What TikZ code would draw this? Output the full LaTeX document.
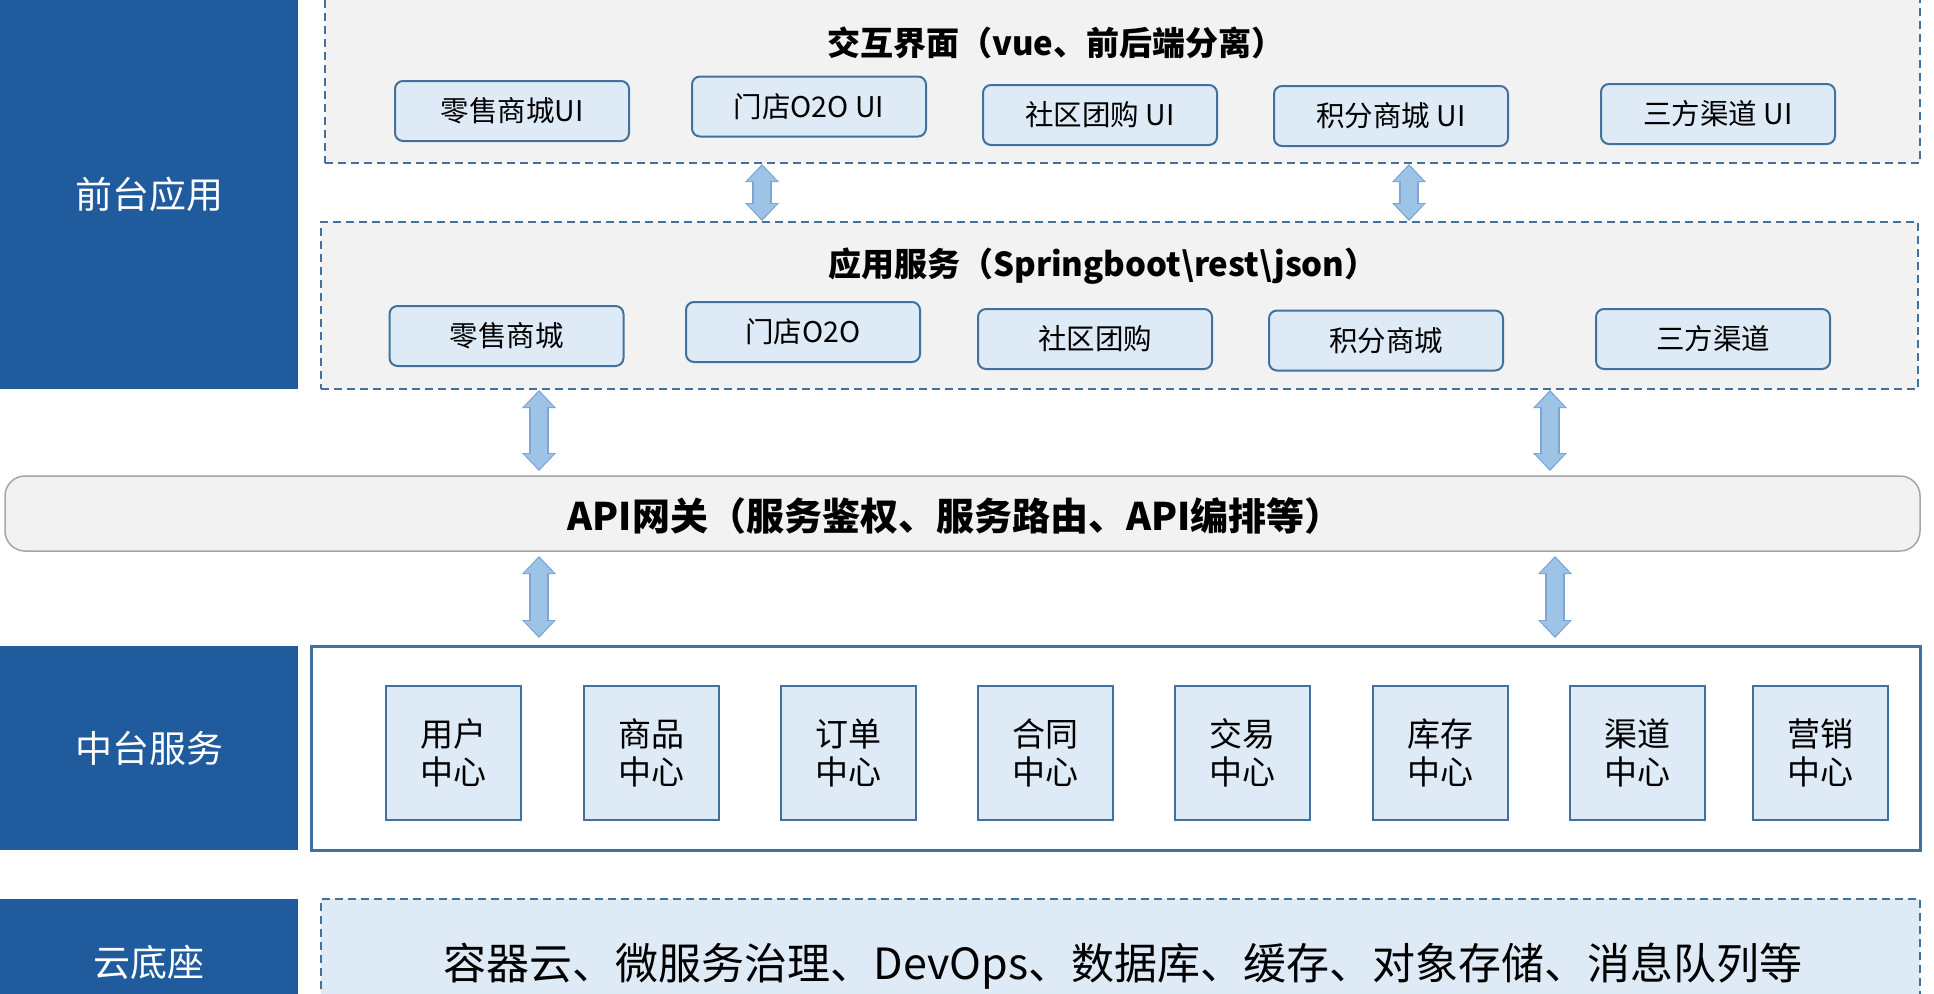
\documentclass[tikz,border=0pt]{standalone}
\usepackage{fontspec}
\setmainfont{Noto Sans CJK SC}
\usetikzlibrary{arrows.meta}
\definecolor{panelblue}{RGB}{31,91,157}
\definecolor{edgeblue}{RGB}{65,113,156}
\definecolor{boxfill}{RGB}{222,235,247}
\definecolor{grayfill}{RGB}{242,242,242}
\definecolor{apigray}{RGB}{166,166,166}
\definecolor{arrowfill}{RGB}{157,195,230}
\definecolor{arrowedge}{RGB}{125,166,214}
\begin{document}
\begin{tikzpicture}[x=1pt,y=-1pt,
  panel/.style={fill=panelblue, draw=none, text=white, inner sep=0pt, font=\fontsize{37}{44}\selectfont},
  groupbox/.style={draw=edgeblue, line width=2pt, dash pattern=on 8pt off 5pt, fill=grayfill, inner sep=0pt},
  uibox/.style={draw=edgeblue, line width=2pt, fill=boxfill, rounded corners=8pt, minimum width=234pt, minimum height=60pt, inner sep=0pt, font=\fontsize{28.5}{34}\selectfont},
  svcbox/.style={draw=edgeblue, line width=2pt, fill=boxfill, minimum width=135pt, minimum height=134pt, inner sep=0pt, align=center, font=\fontsize{33}{38}\selectfont},
  grouptitle/.style={anchor=west, inner sep=0pt, font=\bfseries\fontsize{33}{38}\selectfont},
  arrowouter/.style={line width=20pt, draw=arrowedge, {Triangle[width=34pt,length=18pt,line width=0pt]}-{Triangle[width=34pt,length=18pt,line width=0pt]}},
  arrowinner/.style={line width=16pt, draw=arrowfill, shorten <=2pt, shorten >=2pt, {Triangle[width=29pt,length=15pt,line width=0pt]}-{Triangle[width=29pt,length=15pt,line width=0pt]}}
]
\useasboundingbox (0,0) rectangle (1934,993);
\clip (0,0) rectangle (1934,993);
\fill[white] (0,0) rectangle (1934,993);

% left panels
\node[panel, minimum width=298pt, minimum height=389pt] (p1) at (149,194.5) {前台应用};
\node[panel, minimum width=298pt, minimum height=204pt] (p2) at (149,748) {中台服务};
\node[panel, minimum width=298pt, minimum height=126pt] (p3) at (149,962) {云底座};

% top group: interaction
\node[groupbox, minimum width=1595pt, minimum height=183pt] (gi) at (1122.5,71.5) {};
\node[grouptitle] (ti) at (827,43) {交互界面（vue、前后端分离）};
\node[uibox] (u1) at (512,111) {零售商城UI};
\node[uibox] (u2) at (809,106.5) {门店O2O UI};
\node[uibox] (u3) at (1100,115) {社区团购 UI};
\node[uibox] (u4) at (1391,116) {积分商城 UI};
\node[uibox] (u5) at (1718,114) {三方渠道 UI};

% second group: app services
\node[groupbox, minimum width=1597pt, minimum height=167pt] (ga) at (1119.5,305.5) {};
\node[grouptitle] (ta) at (828,266) {应用服务（Springboot\textbackslash rest\textbackslash json）};
\node[uibox] (s1) at (506.5,336) {零售商城};
\node[uibox] (s2) at (803,332) {门店O2O};
\node[uibox] (s3) at (1095,339) {社区团购};
\node[uibox] (s4) at (1386,340.5) {积分商城};
\node[uibox] (s5) at (1713,339) {三方渠道};

% API gateway
\node[draw=apigray, line width=1.5pt, fill=grayfill, rounded corners=20pt, minimum width=1915pt, minimum height=75pt, inner sep=0pt] (api) at (962.5,513.5) {};
\node[inner sep=0pt, font=\bfseries\fontsize{38}{44}\selectfont] (apit) at (955,516) {API网关（服务鉴权、服务路由、API编排等）};

% middle services
\node[draw=edgeblue, line width=3pt, fill=white, minimum width=1609pt, minimum height=204pt, inner sep=0pt] (mid) at (1115.5,748) {};
\node[svcbox] (m1) at (453.5,753) {用户\\中心};
\node[svcbox] (m2) at (651,753) {商品\\中心};
\node[svcbox] (m3) at (848,753) {订单\\中心};
\node[svcbox] (m4) at (1045.5,753) {合同\\中心};
\node[svcbox] (m5) at (1242.5,753) {交易\\中心};
\node[svcbox] (m6) at (1440,753) {库存\\中心};
\node[svcbox] (m7) at (1637.5,753) {渠道\\中心};
\node[svcbox] (m8) at (1820.5,753) {营销\\中心};

% cloud base
\node[groupbox, fill=boxfill, minimum width=1599pt, minimum height=126pt] (cloud) at (1120.5,962) {};
\node[inner sep=0pt, font=\fontsize{43}{50}\selectfont] (cloudt) at (1123,966) {容器云、微服务治理、DevOps、数据库、缓存、对象存储、消息队列等};

% arrow end points
\coordinate (a1s) at (762,0 |- gi.south);
\coordinate (a1e) at (762,0 |- ga.north);
\coordinate (a2s) at (1409,0 |- gi.south);
\coordinate (a2e) at (1409,0 |- ga.north);
\coordinate (a3s) at (539,390);
\coordinate (a3e) at (539,471);
\coordinate (a4s) at (1550,390);
\coordinate (a4e) at (1550,471);
\coordinate (a5s) at (539,556);
\coordinate (a5e) at (539,638);
\coordinate (a6s) at (1555,556);
\coordinate (a6e) at (1555,638);

\foreach \a in {a1,a2,a3,a4,a5,a6}{
  \draw[arrowouter] (\a s) -- (\a e);
  \draw[arrowinner] (\a s) -- (\a e);
}
\end{tikzpicture}
\end{document}
